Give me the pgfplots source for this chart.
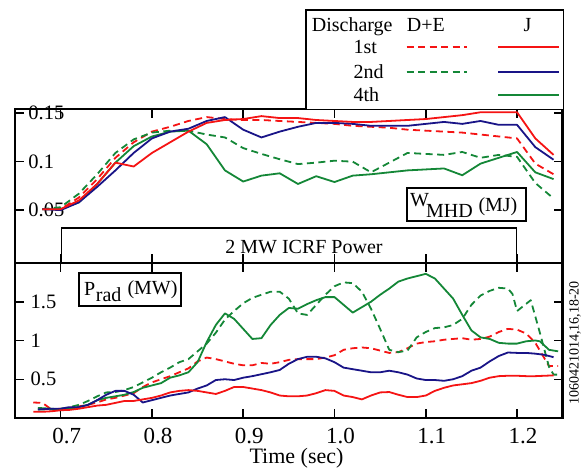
\documentclass[border=0pt]{standalone}
\usepackage{fontspec}
\setmainfont{Liberation Serif}
\usepackage{pgfplots}
\pgfplotsset{compat=1.18}
\definecolor{myred}{RGB}{245,20,20}
\definecolor{myblue}{RGB}{25,20,135}
\definecolor{mygreen}{RGB}{20,135,55}
\tikzset{dashedline/.style={dash pattern=on 7pt off 4.5pt}}
\pgfplotsset{
  panel/.style={
    scale only axis, width=547.7pt,
    xmin=0.65, xmax=1.25,
    xtick={0.7,0.8,0.9,1.0,1.1,1.2},
    scaled x ticks=false, scaled y ticks=false,
    tick align=inside, major tick length=9pt,
    axis line style={line width=2.4pt},
    tick style={black, line width=1.5pt},
    /pgf/number format/assume math mode=true,
    yticklabel style={font=\fontsize{20.5}{24}\selectfont},
    xticklabel style={font=\fontsize{23}{26}\selectfont},
    every axis plot/.append style={line width=1.8pt, line join=round},
  },
}
\begin{document}
\fontsize{20}{24}\selectfont
\begin{tikzpicture}[x=1pt,y=1pt]
\useasboundingbox (-15,-54) rectangle (572,418);

% ---------------- top panel: W_MHD ----------------
% (anchor offset of about 5pt compensated so that the box spans 155..308.7)
\begin{axis}[panel, at={(0,160)}, anchor=south west, height=153.7pt,
  ymin=-0.0045, ymax=0.1541, ytick={0.05,0.1,0.15},
  yticklabels={0.05,0.1,0.15},
  xticklabels={},
  yticklabel style={anchor=west, inner sep=0pt, xshift=13.3pt},
]
% D+E 1st
\addplot[myred, dashedline] coordinates {
(0.68,0.051)(0.70,0.051)(0.72,0.063)(0.74,0.082)(0.76,0.104)(0.78,0.120)
(0.80,0.131)(0.82,0.136)(0.84,0.142)(0.86,0.146)(0.88,0.144)(0.90,0.143)
(0.92,0.143)(0.94,0.142)(0.96,0.141)(0.98,0.140)(1.00,0.139)(1.02,0.137)
(1.04,0.136)(1.06,0.135)(1.08,0.133)(1.10,0.132)(1.12,0.131)(1.14,0.130)
(1.16,0.128)(1.18,0.126)(1.20,0.124)(1.22,0.098)(1.24,0.087)};
% D+E 2nd
\addplot[mygreen, dashedline] coordinates {
(0.68,0.051)(0.70,0.053)(0.72,0.067)(0.74,0.087)(0.76,0.109)(0.78,0.123)
(0.80,0.130)(0.82,0.132)(0.84,0.132)(0.86,0.128)(0.88,0.125)(0.90,0.114)
(0.92,0.108)(0.94,0.1025)(0.96,0.0975)(0.98,0.099)(1.00,0.101)(1.02,0.100)
(1.04,0.089)(1.06,0.099)(1.08,0.109)(1.10,0.108)(1.12,0.107)(1.14,0.110)
(1.16,0.104)(1.18,0.107)(1.20,0.105)(1.22,0.078)(1.24,0.062)};
% J 4th
\addplot[mygreen] coordinates {
(0.68,0.051)(0.70,0.051)(0.72,0.058)(0.74,0.077)(0.76,0.099)(0.78,0.116)
(0.80,0.126)(0.82,0.131)(0.84,0.132)(0.86,0.118)(0.88,0.091)(0.90,0.0795)
(0.92,0.0856)(0.94,0.088)(0.96,0.077)(0.98,0.085)(1.00,0.079)(1.02,0.0856)
(1.04,0.087)(1.06,0.089)(1.08,0.091)(1.10,0.092)(1.12,0.093)(1.14,0.086)
(1.16,0.098)(1.18,0.104)(1.20,0.110)(1.22,0.089)(1.24,0.082)};
% J 2nd
\addplot[myblue] coordinates {
(0.68,0.051)(0.70,0.050)(0.72,0.058)(0.74,0.074)(0.76,0.091)(0.78,0.109)
(0.80,0.124)(0.82,0.131)(0.84,0.134)(0.86,0.142)(0.88,0.146)(0.90,0.133)
(0.92,0.125)(0.94,0.131)(0.96,0.136)(0.98,0.140)(1.00,0.140)(1.02,0.139)
(1.04,0.137)(1.06,0.137)(1.08,0.137)(1.10,0.139)(1.12,0.141)(1.14,0.139)
(1.16,0.142)(1.18,0.138)(1.20,0.138)(1.22,0.115)(1.24,0.102)};
% J 1st
\addplot[myred] coordinates {
(0.68,0.051)(0.70,0.051)(0.72,0.060)(0.74,0.077)(0.76,0.099)(0.78,0.095)
(0.80,0.109)(0.82,0.120)(0.84,0.131)(0.86,0.140)(0.88,0.143)(0.90,0.144)
(0.92,0.147)(0.94,0.145)(0.96,0.145)(0.98,0.143)(1.00,0.142)(1.02,0.141)
(1.04,0.141)(1.06,0.142)(1.08,0.143)(1.10,0.144)(1.12,0.146)(1.14,0.148)
(1.16,0.151)(1.18,0.151)(1.20,0.151)(1.22,0.124)(1.24,0.107)};
\end{axis}

% ---------------- bottom panel: P_rad ----------------
\begin{axis}[panel, at={(0,0)}, anchor=south west, height=155pt,
  ymin=0, ymax=2, ytick={0.5,1,1.5},
  yticklabels={0.5,1,1.5},
  xticklabels={0.7,0.8,0.9,1.0,1.1,1.2},
  xticklabel style={anchor=base, yshift=-25.3pt, xshift=6pt},
  yticklabel style={anchor=west, inner sep=0pt, xshift=15.5pt},
  xlabel={Time (sec)},
  xlabel style={at={(axis description cs:0.514,0)}, anchor=base, inner sep=0pt, yshift=-45pt, font=\fontsize{22}{26}\selectfont},
]
% D+E 1st
\addplot[myred, dashedline] coordinates {
(0.67,0.20)(0.68,0.195)(0.69,0.11)(0.70,0.12)(0.71,0.13)(0.72,0.15)(0.73,0.17)
(0.74,0.20)(0.75,0.24)(0.76,0.26)(0.77,0.29)(0.78,0.32)(0.79,0.40)(0.80,0.46)
(0.81,0.50)(0.82,0.54)(0.83,0.59)(0.84,0.64)(0.85,0.73)(0.86,0.78)(0.87,0.76)
(0.88,0.73)(0.89,0.70)(0.90,0.68)(0.91,0.68)(0.92,0.71)(0.93,0.70)(0.94,0.72)
(0.95,0.75)(0.96,0.76)(0.97,0.76)(0.98,0.76)(0.99,0.78)(1.00,0.81)(1.01,0.88)
(1.02,0.90)(1.03,0.91)(1.04,0.90)(1.05,0.87)(1.06,0.84)(1.07,0.85)(1.08,0.90)
(1.09,0.96)(1.10,0.98)(1.11,0.99)(1.12,1.01)(1.13,1.02)(1.14,1.03)(1.15,1.01)
(1.16,1.02)(1.17,1.05)(1.18,1.11)(1.19,1.15)(1.20,1.14)(1.21,1.09)(1.22,0.97)
(1.23,0.77)(1.235,0.67)(1.245,0.67)};
% D+E 2nd
\addplot[mygreen, dashedline] coordinates {
(0.675,0.11)(0.69,0.11)(0.70,0.12)(0.71,0.14)(0.72,0.17)(0.73,0.22)(0.74,0.28)
(0.75,0.33)(0.76,0.335)(0.77,0.36)(0.78,0.40)(0.79,0.46)(0.80,0.52)(0.81,0.59)
(0.82,0.65)(0.83,0.72)(0.84,0.76)(0.85,0.86)(0.86,0.96)(0.87,1.10)(0.88,1.27)
(0.89,1.38)(0.90,1.48)(0.91,1.55)(0.92,1.59)(0.93,1.63)(0.94,1.63)(0.95,1.54)
(0.96,1.35)(0.97,1.33)(0.98,1.46)(0.99,1.59)(1.00,1.70)(1.01,1.75)(1.02,1.74)
(1.03,1.63)(1.04,1.41)(1.05,1.15)(1.06,0.88)(1.07,0.85)(1.08,0.87)(1.09,1.04)
(1.10,1.11)(1.11,1.16)(1.12,1.17)(1.13,1.20)(1.14,1.28)(1.15,1.46)(1.16,1.58)
(1.17,1.64)(1.18,1.68)(1.19,1.67)(1.195,1.60)(1.20,1.38)(1.215,1.52)(1.225,1.10)
(1.235,0.66)(1.24,0.56)(1.245,0.56)};
% J 4th
\addplot[mygreen] coordinates {
(0.675,0.13)(0.69,0.12)(0.70,0.11)(0.71,0.12)(0.72,0.14)(0.73,0.17)(0.74,0.23)
(0.75,0.26)(0.76,0.28)(0.77,0.30)(0.78,0.335)(0.79,0.39)(0.80,0.42)(0.81,0.45)
(0.82,0.52)(0.83,0.55)(0.84,0.59)(0.85,0.72)(0.86,0.98)(0.87,1.20)(0.88,1.35)
(0.89,1.28)(0.90,1.15)(0.91,1.02)(0.92,1.03)(0.93,1.20)(0.94,1.33)(0.95,1.42)
(0.96,1.41)(0.97,1.47)(0.98,1.52)(0.99,1.56)(1.00,1.56)(1.01,1.46)(1.02,1.36)
(1.03,1.43)(1.04,1.50)(1.05,1.59)(1.06,1.67)(1.07,1.76)(1.08,1.80)(1.09,1.83)
(1.10,1.86)(1.11,1.80)(1.12,1.67)(1.13,1.54)(1.14,1.33)(1.15,1.13)(1.16,1.04)
(1.17,1.02)(1.18,0.97)(1.19,0.96)(1.20,0.96)(1.21,0.99)(1.22,1.00)(1.225,0.99)
(1.235,0.88)(1.245,0.86)};
% J 2nd
\addplot[myblue] coordinates {
(0.675,0.11)(0.69,0.12)(0.70,0.12)(0.71,0.14)(0.72,0.14)(0.73,0.17)(0.74,0.23)
(0.75,0.30)(0.76,0.35)(0.77,0.35)(0.78,0.30)(0.79,0.20)(0.80,0.23)(0.81,0.26)
(0.82,0.29)(0.83,0.31)(0.84,0.33)(0.85,0.38)(0.86,0.42)(0.87,0.49)(0.88,0.50)
(0.89,0.49)(0.90,0.52)(0.91,0.54)(0.92,0.565)(0.93,0.59)(0.94,0.62)(0.95,0.70)
(0.96,0.76)(0.97,0.79)(0.98,0.79)(0.99,0.77)(1.00,0.72)(1.01,0.65)(1.02,0.63)
(1.03,0.61)(1.04,0.59)(1.05,0.59)(1.06,0.61)(1.07,0.59)(1.08,0.56)(1.09,0.51)
(1.10,0.49)(1.11,0.49)(1.12,0.48)(1.13,0.50)(1.14,0.54)(1.15,0.61)(1.16,0.65)
(1.17,0.73)(1.18,0.80)(1.19,0.845)(1.20,0.84)(1.21,0.84)(1.22,0.83)(1.23,0.815)
(1.24,0.785)};
% J 1st
\addplot[myred] coordinates {
(0.67,0.08)(0.68,0.08)(0.69,0.087)(0.70,0.10)(0.71,0.105)(0.72,0.12)(0.73,0.14)
(0.74,0.16)(0.75,0.17)(0.76,0.195)(0.77,0.22)(0.78,0.22)(0.79,0.24)(0.80,0.26)
(0.81,0.29)(0.82,0.33)(0.83,0.35)(0.84,0.36)(0.85,0.35)(0.86,0.33)(0.87,0.31)
(0.88,0.35)(0.89,0.40)(0.90,0.40)(0.91,0.38)(0.92,0.36)(0.93,0.33)(0.94,0.29)
(0.95,0.28)(0.96,0.28)(0.97,0.29)(0.98,0.32)(0.99,0.36)(1.00,0.35)(1.01,0.29)
(1.02,0.27)(1.03,0.24)(1.04,0.29)(1.05,0.33)(1.06,0.335)(1.07,0.30)(1.08,0.27)
(1.09,0.27)(1.10,0.29)(1.11,0.35)(1.12,0.39)(1.13,0.42)(1.14,0.435)(1.15,0.45)
(1.16,0.48)(1.17,0.52)(1.18,0.54)(1.19,0.545)(1.20,0.545)(1.21,0.54)(1.22,0.54)
(1.23,0.545)(1.24,0.55)};
\end{axis}

% ---------------- annotations ----------------
% ICRF box
\draw[line width=1.3pt] (46.6,155) -- (46.6,190) -- (501.8,190) -- (501.8,155);
\node[anchor=base, inner sep=0pt] at (289,164.7) {2 MW ICRF Power};
% W_MHD box
\draw[line width=2pt, fill=white] (392.3,197) rectangle (511,230);
\node[anchor=base west, inner sep=0pt] at (395,211.3) {W};
\node[anchor=base west, inner sep=0pt] at (411,200.3) {MHD};
\node[anchor=base west, inner sep=0pt] at (463.3,206.3) {(MJ)};
% P_rad box
\draw[line width=2pt, fill=white] (64,111.7) rectangle (165.7,145.3);
\node[anchor=base west, inner sep=0pt] at (69,122.7) {P};
\node[anchor=base west, inner sep=0pt] at (80.7,116.7) {rad};
\node[anchor=base west, inner sep=0pt] at (112.3,123.3) {(MW)};
% legend
\draw[line width=1.6pt, fill=white] (291,308.7) -- (291,408) -- (548.3,408) -- (548.3,308.7);
\node[anchor=base west, inner sep=0pt] at (296.7,386.3) {Discharge};
\node[anchor=base west, inner sep=0pt] at (391.7,386.3) {D+E};
\node[anchor=base, inner sep=0pt] at (512.5,386.3) {J};
\node[anchor=base west, inner sep=0pt] at (338.3,364.7) {1st};
\node[anchor=base west, inner sep=0pt] at (338.3,339.7) {2nd};
\node[anchor=base west, inner sep=0pt] at (338.3,316.3) {4th};
\draw[myred, line width=1.8pt, dashedline] (391.7,371.3) -- (451.7,371.3);
\draw[mygreen, line width=1.8pt, dashedline] (391.7,346.3) -- (451.7,346.3);
\draw[myred, line width=1.8pt] (483.3,371.3) -- (544.3,371.3);
\draw[myblue, line width=1.8pt] (483.3,346.3) -- (544.3,346.3);
\draw[mygreen, line width=1.8pt] (483.3,323) -- (544.3,323);
% shot numbers
\node[rotate=90, inner sep=0pt, font=\fontsize{14}{16}\selectfont] at (560,75) {1060421014,16,18-20};
\end{tikzpicture}
\end{document}
